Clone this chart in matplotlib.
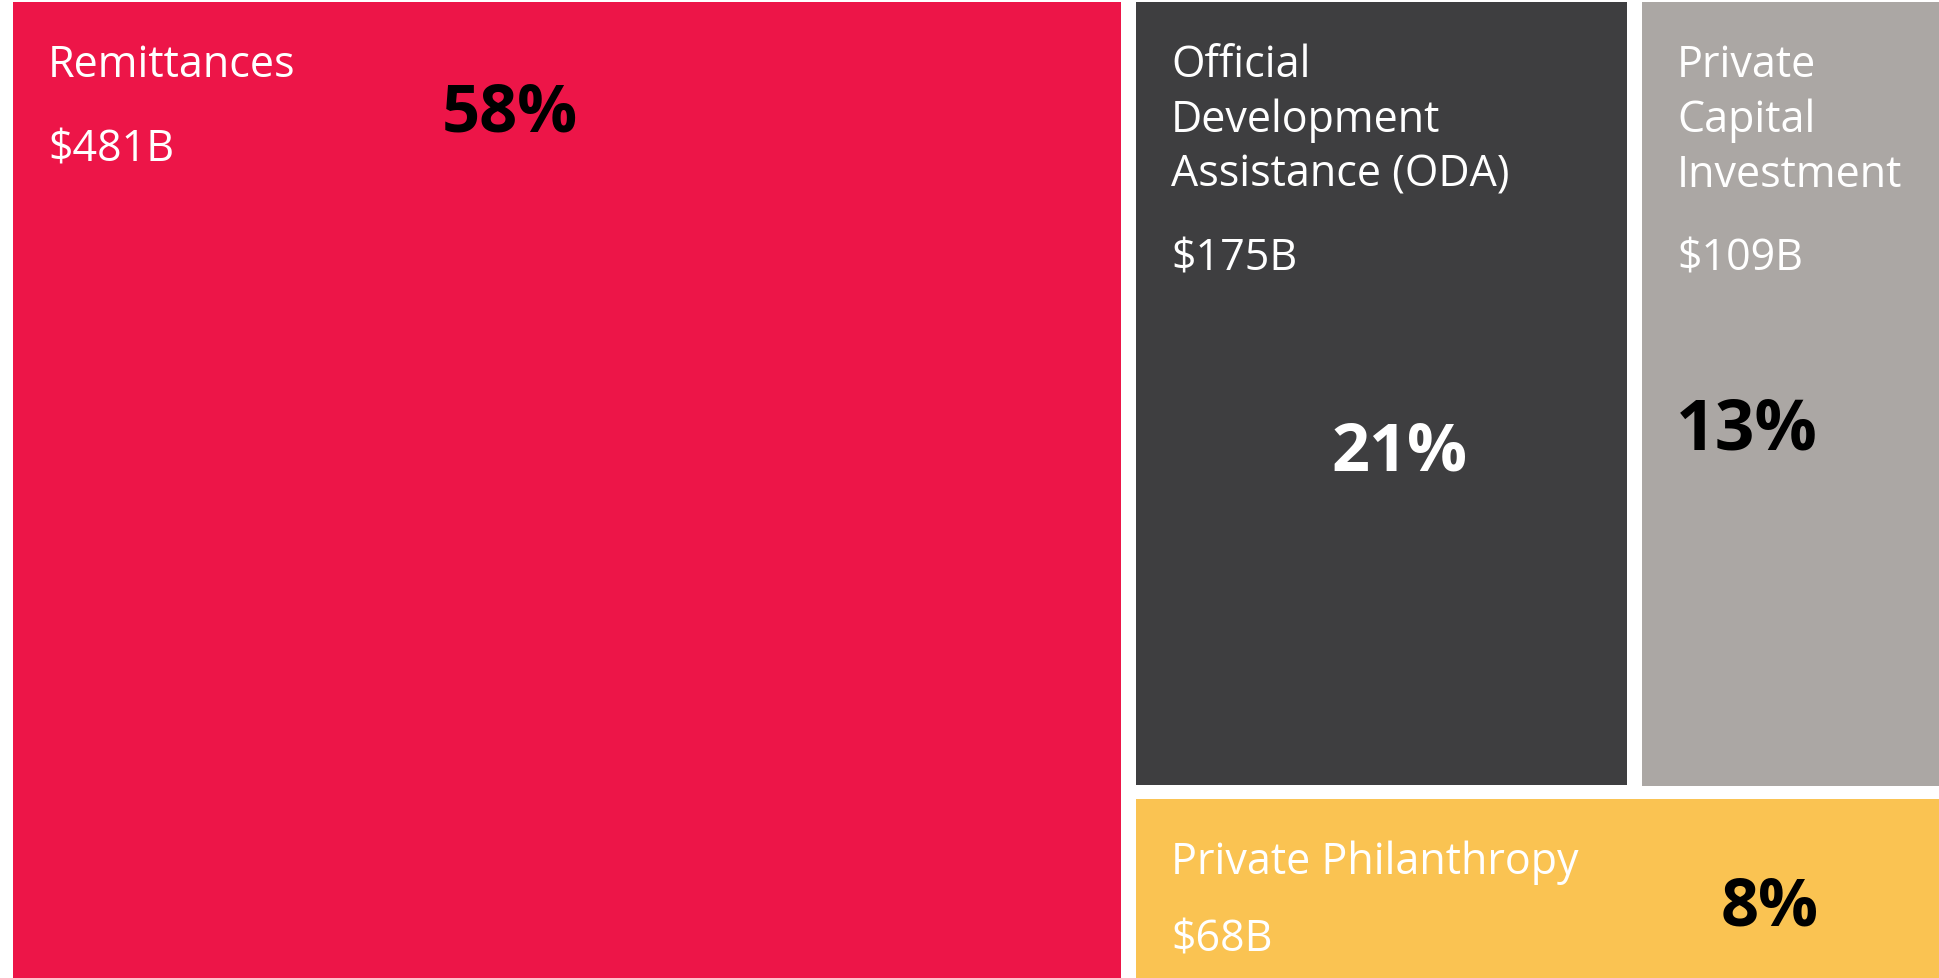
import matplotlib
matplotlib.use('Agg')
import matplotlib.pyplot as plt
from matplotlib.patches import Rectangle

# Дані
categories = ['Remittances', 'Official Development Assistance (ODA)',
              'Private Capital Investment', 'Private Philanthropy']
label_lines = [['Remittances'],
               ['Official', 'Development', 'Assistance (ODA)'],
               ['Private', 'Capital', 'Investment'],
               ['Private Philanthropy']]
values = [481, 175, 109, 68]          # млрд $
value_labels = ['$481B', '$175B', '$109B', '$68B']

colors = ['#ED1548', '#3E3E40', '#ABA7A4', '#FAC352']
pct_colors = ['black', 'white', 'black', 'black']
# положення базової лінії підпису з відсотком (частки ширини/висоти плитки)
pct_pos = [(0.448, 0.132), (0.536, 0.597), (0.345, 0.569), (0.783, 0.70)]
pct_sizes = [48, 48, 50, 48]

W, H = 1939, 979
fig = plt.figure(figsize=(W / 100, H / 100), dpi=100)
ax = fig.add_axes([0, 0, 1, 1])
ax.set_xlim(0, W)
ax.set_ylim(H, 0)
ax.axis('off')

# Область treemap і проміжок між плитками
x0, y0, x1, y1 = 13, 3, 1945, 979
gap = 15
total = sum(values)

# Ліва колонка - найбільша категорія, справа - решта
rects = []
xl = x0 + (x1 - x0) * values[0] / total
rects.append((x0, y0, xl - gap / 2, y1))
rest = total - values[0]
top_sum = values[1] + values[2]
yt = y0 + (y1 - y0) * top_sum / rest
xm = (xl + gap / 2) + (x1 - xl - gap / 2) * values[1] / top_sum
rects.append((xl + gap / 2, y0, xm - gap / 2, yt - gap / 2 + 3))
rects.append((xm + gap / 2, y0, x1, yt - gap / 2 + 4))
rects.append((xl + gap / 2, yt + gap / 2 + 2, x1, y1))

label_font = 'Open Sans'
for i, (a, b, c, d) in enumerate(rects):
    ax.add_patch(Rectangle((a, b), c - a, d - b, facecolor=colors[i],
                           edgecolor='none'))
    tx = a + 35
    base = b + 74
    for line in label_lines[i]:
        ax.text(tx, base, line, color='white', fontsize=31,
                family=label_font, va='baseline', ha='left')
        base += 55
    base = base - 55 + (84 if i != 3 else 78)
    ax.text(tx, base, value_labels[i], color='white', fontsize=31,
            family=label_font, va='baseline', ha='left')
    pct = round(values[i] / total * 100)
    fx, fy = pct_pos[i]
    ax.text(a + (c - a) * fx, b + (d - b) * fy, f'{pct}%', color=pct_colors[i],
            fontsize=pct_sizes[i], family='Open Sans', fontweight='bold',
            ha='center', va='baseline')

fig.savefig('out.png', dpi=100, facecolor='white')
